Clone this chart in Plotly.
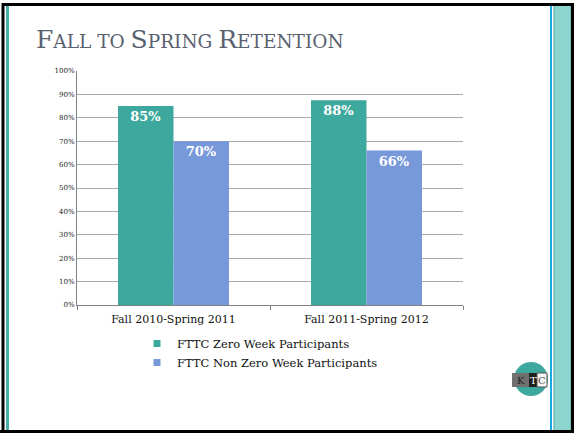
import plotly.graph_objects as go

categories = ["Fall 2010-Spring 2011", "Fall 2011-Spring 2012"]
zero_week = [0.85, 0.875]
non_zero_week = [0.70, 0.66]
series_names = ["FTTC Zero Week Participants", "FTTC Non Zero Week Participants"]
y_ticks = [i / 10 for i in range(11)]
y_tick_labels = [f"{i*10}%" for i in range(11)]

TEAL = "#3DA89E"
BLUE = "#7799DA"
SERIF = "DejaVu Serif"

W, H = 574, 433
L, R, T, B = 77, 463, 71, 305

def px(x):
    return (x - L) / (R - L)

def py(y):
    return (B - y) / (B - T)

fig = go.Figure()
for name, vals, col in [(series_names[0], zero_week, TEAL), (series_names[1], non_zero_week, BLUE)]:
    fig.add_trace(go.Bar(
        x=categories, y=vals, name=name, marker=dict(color=col, line=dict(width=0)),
        texttemplate="%{y:.0%}", textposition="inside", insidetextanchor="end",
        textangle=0, constraintext="none",
        textfont=dict(family=SERIF, size=13, color="white", weight="bold"),
        showlegend=False, hoverinfo="skip"))
    fig.add_trace(go.Scatter(
        x=[None], y=[None], mode="markers", name=name,
        marker=dict(symbol="square", size=7, color=col)))

def line(x0, y0, x1, y1, color, width):
    return dict(type="line", xref="paper", yref="paper", x0=px(x0), x1=px(x1), y0=py(y0), y1=py(y1),
                line=dict(color=color, width=width))

def rect(x0, y0, x1, y1, fill, lc=None, lw=0):
    return dict(type="rect", xref="paper", yref="paper", x0=px(x0), x1=px(x1), y0=py(y1), y1=py(y0),
                fillcolor=fill, line=dict(color=lc or fill, width=lw))

shapes = [
    rect(554, 4, 571, 433, "#8DD6D0", "#4FA9A2", 1),
    line(551, 5, 551, 433, "#19A7E6", 2),
    line(7.5, 5, 7.5, 433, "#45B0A8", 3),
    line(3, 3, 3, 433, "black", 3),
    line(2, 4.5, 574, 4.5, "black", 3),
    line(572.5, 3, 572.5, 433, "black", 3),
    line(0, 431.5, 574, 431.5, "black", 3),
    # logo
    dict(type="circle", xref="paper", yref="paper", x0=px(514), x1=px(548), y0=py(396), y1=py(362),
         fillcolor=TEAL, line=dict(width=0)),
    rect(512, 373, 529, 387, "#707070"),
    rect(529, 373, 537, 387, "#1E1E1E"),
    rect(537, 373, 547, 387, "#F4F4F4", "#555555", 1),
]

annotations = [
    dict(xref="paper", yref="paper", x=px(34), y=py(39), xanchor="left", yanchor="middle", showarrow=False,
         text=("F<span style='font-size:18.5px'>ALL TO </span>S<span style='font-size:18.5px'>PRING </span>"
               "R<span style='font-size:18.5px'>ETENTION</span>"),
         font=dict(family=SERIF, size=25, color="#596170")),
]
for lx, letter, col in [(520.5, "K", "#222"), (533, "T", "white"), (542, "C", "#555")]:
    annotations.append(dict(xref="paper", yref="paper", x=px(lx), y=py(380), xanchor="center",
                            yanchor="middle", showarrow=False, text=letter,
                            font=dict(family="DejaVu Serif", size=10, color=col)))

fig.update_layout(
    width=W, height=H,
    margin=dict(l=L, r=W - R, t=T, b=H - B, autoexpand=False),
    paper_bgcolor="white", plot_bgcolor="white",
    barmode="group", bargap=0.425, bargroupgap=0,
    shapes=shapes, annotations=annotations,
    showlegend=True,
    legend=dict(x=px(137), y=py(329), xanchor="left", yanchor="top",
                font=dict(family=SERIF, size=11.5, color="#111"),
                tracegroupgap=0, bgcolor="rgba(0,0,0,0)"),
    xaxis=dict(showline=True, linecolor="#808080", linewidth=1, ticks="outside", tickson="boundaries",
               ticklen=4, tickcolor="#808080", showgrid=False, ticklabelstandoff=4,
               tickfont=dict(family=SERIF, size=11, color="#111"), fixedrange=True),
    yaxis=dict(range=[0, 1], tickvals=y_ticks, ticktext=y_tick_labels, showline=True, linecolor="#808080",
               linewidth=1, gridcolor="#A8A8A8", gridwidth=1, zeroline=False, ticks="",
               tickfont=dict(family=SERIF, size=7, color="#222"), fixedrange=True),
)

fig.write_html("out.html", config={"displayModeBar": False},
               post_script="document.body.style.margin='0';document.body.style.overflow='hidden';")
